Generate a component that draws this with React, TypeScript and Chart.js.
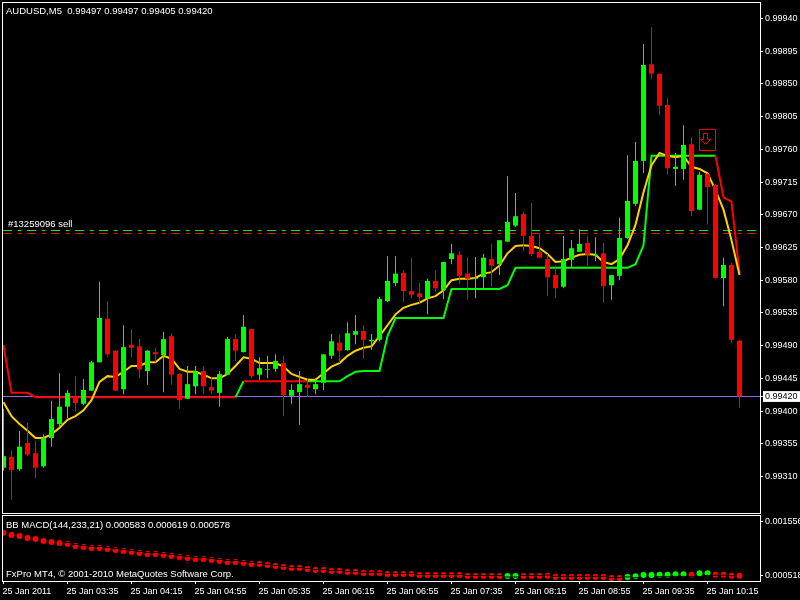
import React, { useEffect, useRef } from "react";
import { Chart, registerables } from "chart.js";

Chart.register(...registerables);

// Prices are quoted in 1/100000 (99420 = 0.99420)
const barOpen = [
  99322, 99337, 99320, 99356, 99342, 99324, 99363, 99382, 99406, 99418,
  99410, 99428, 99467, 99527, 99483, 99430, 99491, 99489, 99455, 99481,
  99477, 99503, 99451, 99417, 99434, 99455, 99433, 99425, 99450, 99499,
  99481, 99513, 99450, 99457, 99458, 99466, 99421, 99426, 99436, 99430,
  99439, 99476, 99494, 99484, 99505, 99510, 99496, 99498, 99551, 99576,
  99590, 99565, 99562, 99555, 99579, 99566, 99609, 99615, 99589, 99582,
  99584, 99609, 99602, 99633, 99655, 99671, 99641, 99619, 99609, 99587,
  99571, 99608, 99619, 99631, 99613, 99617, 99573, 99586, 99638, 99685,
  99744, 99877, 99864, 99821, 99733, 99733, 99767, 99677, 99726, 99711,
  99583, 99601, 99497,
];
const barClose = [
  99338, 99319, 99351, 99340, 99322, 99363, 99389, 99406, 99425, 99411,
  99429, 99467, 99528, 99478, 99428, 99488, 99487, 99457, 99483, 99478,
  99499, 99450, 99415, 99437, 99455, 99434, 99428, 99451, 99499, 99483,
  99516, 99448, 99459, 99458, 99469, 99422, 99429, 99437, 99432, 99437,
  99478, 99496, 99483, 99507, 99510, 99498, 99498, 99554, 99579, 99589,
  99565, 99560, 99557, 99579, 99569, 99605, 99617, 99586, 99582, 99583,
  99611, 99600, 99635, 99660, 99668, 99641, 99616, 99611, 99584, 99569,
  99609, 99624, 99630, 99615, 99615, 99572, 99587, 99638, 99689, 99744,
  99876, 99864, 99820, 99734, 99736, 99766, 99675, 99725, 99708, 99583,
  99601, 99498, 99420,
];
const barHigh = [
  99403, 99346, 99373, 99384, 99359, 99368, 99414, 99452, 99429, 99448,
  99444, 99469, 99578, 99551, 99484, 99518, 99513, 99499, 99484, 99487,
  99509, 99507, 99452, 99462, 99462, 99462, 99447, 99455, 99502, 99506,
  99532, 99513, 99474, 99476, 99478, 99476, 99437, 99455, 99445, 99445,
  99478, 99506, 99505, 99522, 99532, 99518, 99506, 99557, 99613, 99613,
  99594, 99611, 99576, 99582, 99594, 99605, 99630, 99620, 99612, 99612,
  99616, 99630, 99635, 99723, 99700, 99674, 99686, 99644, 99616, 99601,
  99641, 99635, 99650, 99641, 99639, 99631, 99587, 99666, 99752, 99770,
  99905, 99928, 99864, 99831, 99755, 99793, 99777, 99729, 99727, 99712,
  99611, 99604, 99497,
];
const barLow = [
  99318, 99278, 99318, 99338, 99308, 99322, 99351, 99379, 99390, 99399,
  99408, 99428, 99467, 99474, 99428, 99423, 99474, 99445, 99436, 99467,
  99426, 99436, 99403, 99417, 99423, 99423, 99423, 99406, 99450, 99469,
  99481, 99445, 99443, 99445, 99454, 99393, 99410, 99381, 99419, 99423,
  99429, 99472, 99466, 99483, 99492, 99472, 99484, 99496, 99550, 99572,
  99550, 99555, 99547, 99533, 99564, 99554, 99602, 99575, 99553, 99555,
  99568, 99571, 99587, 99633, 99653, 99620, 99613, 99611, 99558, 99555,
  99569, 99598, 99619, 99600, 99606, 99549, 99553, 99580, 99637, 99682,
  99727, 99857, 99807, 99725, 99710, 99718, 99668, 99677, 99657, 99582,
  99544, 99494, 99405,
];
const maLine = [
  99412, 99393, 99382, 99373, 99363, 99363, 99368, 99377, 99388, 99393,
  99401, 99415, 99440, 99448, 99447, 99454, 99462, 99462, 99467, 99467,
  99476, 99472, 99458, 99454, 99454, 99450, 99445, 99445, 99451, 99462,
  99474, 99472, 99466, 99466, 99466, 99461, 99451, 99447, 99443, 99443,
  99452, 99461, 99466, 99476, 99483, 99487, 99489, 99503, 99518, 99533,
  99542, 99546, 99549, 99555, 99558, 99566, 99580, 99582, 99582, 99583,
  99589, 99591, 99600, 99617, 99627, 99628, 99627, 99624, 99616, 99605,
  99606, 99611, 99615, 99616, 99615, 99605, 99602, 99609, 99628, 99656,
  99701, 99738, 99755, 99751, 99749, 99751, 99736, 99733, 99727, 99704,
  99677, 99635, 99587,
];
const trendLine = [
  99491, 99425, 99425, 99425, 99419, 99419, 99419, 99419, 99419, 99419,
  99419, 99419, 99419, 99419, 99419, 99419, 99419, 99419, 99419, 99419,
  99419, 99419, 99419, 99419, 99419, 99419, 99419, 99419, 99419, 99419,
  99441, 99441, 99441, 99441, 99441, 99441, 99441, 99441, 99441, 99441,
  99441, 99441, 99441, 99448, 99454, 99455, 99455, 99455, 99503, 99528,
  99528, 99528, 99528, 99528, 99528, 99528, 99568, 99568, 99568, 99568,
  99568, 99568, 99568, 99573, 99597, 99597, 99597, 99597, 99597, 99597,
  99597, 99597, 99597, 99597, 99597, 99597, 99597, 99597, 99597, 99602,
  99628, 99751, 99751, 99751, 99751, 99751, 99751, 99751, 99751, 99751,
  99694, 99688, 99590,
];
const trendUpBars = [
  29, 38, 39, 40, 41, 42, 43, 44, 45, 46, 47, 48, 49, 50, 51, 52, 53, 54, 55, 56, 57, 58,
  59, 60, 61, 62, 63, 64, 65, 66, 67, 68, 69, 70, 71, 72, 73, 74, 75, 76, 77, 78, 79, 80,
  81, 82, 83, 84, 85, 86, 87, 88,
];
const orderBuyLevel = 99648.3;
const orderSellLevel = 99644.2;
const bidLevel = 99420;
const signalBar = 88;
const signalPrice = 99773;
const priceTicks = [
  99940, 99895, 99850, 99805, 99760, 99715, 99670, 99625, 99580, 99535, 99490, 99445, 99420,
  99400, 99355, 99310,
];

// Sub-window, in millionths (583 = 0.000583)
const macdMain = [
  1349, 1304, 1285, 1246, 1227, 1188, 1169, 1150, 1130, 1092, 1072, 1053, 1053, 1034, 1014,
  995, 976, 956, 937, 937, 918, 898, 879, 860, 840, 840, 821, 802, 783, 783, 763, 744, 744,
  725, 705, 686, 667, 667, 647, 628, 628, 609, 609, 589, 589, 570, 570, 570, 551, 551, 551,
  551, 531, 531, 531, 531, 531, 531, 512, 512, 512, 512, 512, 512, 512, 512, 512, 512, 518,
  493, 493, 493, 493, 493, 493, 493, 473, 473, 493, 506, 531, 531, 537, 537, 545, 545, 537,
  564, 564, 537, 537, 518, 518,
];
const macdSignal = [
  1419, 1374, 1355, 1316, 1297, 1258, 1239, 1220, 1159, 1121, 1101, 1082, 1082, 1063, 1043,
  1024, 1005, 985, 966, 966, 947, 927, 908, 889, 869, 869, 850, 831, 812, 812, 792, 773, 754,
  735, 715, 696, 677, 677, 657, 638, 638, 619, 619, 599, 599, 580, 580, 580, 561, 561, 561,
  561, 541, 541, 541, 541, 541, 541, 522, 522, 522, 522, 522, 492, 492, 522, 522, 522, 528,
  503, 503, 503, 503, 503, 503, 503, 483, 483, 493, 477, 461, 461, 497, 497, 505, 505, 497,
  494, 524, 527, 527, 518, 588,
];
const macdUpBars = [63, 64, 78, 79, 80, 81, 82, 83, 84, 85, 87, 88];
const macdTicks = [1556, 518];

const timeLabels = [
  "25 Jan 2011", "25 Jan 03:35", "25 Jan 04:15", "25 Jan 04:55", "25 Jan 05:35", "25 Jan 06:15",
  "25 Jan 06:55", "25 Jan 07:35", "25 Jan 08:15", "25 Jan 08:55", "25 Jan 09:35", "25 Jan 10:15",
];
const headerText = "AUDUSD,M5  0.99497 0.99497 0.99405 0.99420";
const orderText = "#13259096 sell";
const macdText = "BB MACD(144,233,21) 0.000583 0.000619 0.000578";
const copyrightText = "FxPro MT4, \u00A9 2001-2010 MetaQuotes Software Corp.";

const GREEN = "#00ff00";
const RED = "#ff0000";
const FONT = "Liberation Sans";
const FONT_SIZE = 9.5;
const TICK_FONT_SIZE = 9;
const X_MIN = -0.0625;
const X_MAX = 94.5625;

function framePlugin(texts: { text: string; x: number; y: number }[]) {
  return {
    id: "frame",
    afterDraw(chart: any) {
      const { ctx, chartArea: a } = chart;
      ctx.save();
      ctx.strokeStyle = "#ffffff";
      ctx.lineWidth = 1;
      ctx.strokeRect(a.left - 0.5, a.top - 0.5, a.right - a.left + 1, a.bottom - a.top + 1);
      ctx.fillStyle = "#ffffff";
      ctx.font = `${FONT_SIZE}px "${FONT}"`;
      ctx.textBaseline = "middle";
      for (const t of texts) ctx.fillText(t.text, t.x, t.y);
      ctx.restore();
    },
  };
}

function makeArrowMarker() {
  const c = document.createElement("canvas");
  c.width = 17;
  c.height = 22;
  const g = c.getContext("2d")!;
  g.strokeStyle = RED;
  g.lineWidth = 1;
  g.strokeRect(0.5, 0.5, 16, 21);
  g.beginPath();
  g.moveTo(4.5, 4.5);
  g.lineTo(8.5, 4.5);
  g.lineTo(8.5, 10.5);
  g.lineTo(11.5, 10.5);
  g.lineTo(6.5, 15.5);
  g.lineTo(1.5, 10.5);
  g.lineTo(4.5, 10.5);
  g.closePath();
  g.stroke();
  return c;
}

const hidePadding = (s: any) => {
  s.paddingLeft = 0;
  s.paddingRight = 0;
  s.paddingTop = 0;
  s.paddingBottom = 0;
};

const tickFont = { family: FONT, size: TICK_FONT_SIZE };

export default function App() {
  const topRef = useRef<HTMLCanvasElement>(null);
  const subRef = useRef<HTMLCanvasElement>(null);

  useEffect(() => {
    const barColors = barOpen.map((o, i) => (barClose[i] >= o ? GREEN : RED));
    const idx = barOpen.map((_, i) => i);
    const levelLine = (y: number, color: string, dash: number[], order: number) => ({
      type: "line",
      data: [
        { x: X_MIN, y },
        { x: X_MAX, y },
      ],
      borderColor: color,
      borderWidth: 1,
      borderDash: dash,
      pointRadius: 0,
      order,
    });

    const top = new Chart(topRef.current!, {
      type: "bar",
      data: {
        datasets: [
          {
            data: idx.map((i) => ({ x: i, y: [barLow[i], barHigh[i]] })),
            backgroundColor: barColors,
            maxBarThickness: 1,
            barPercentage: 1,
            grouped: false,
            borderWidth: 0,
            inflateAmount: 0,
            order: 2,
          },
          {
            data: idx.map((i) => ({ x: i, y: [barOpen[i], barClose[i]] })),
            backgroundColor: barColors,
            maxBarThickness: 5,
            barPercentage: 1,
            grouped: false,
            borderWidth: 0,
            inflateAmount: 0,
            order: 1,
          },
          {
            type: "line",
            data: idx.map((i) => ({ x: i, y: maLine[i] })),
            borderColor: "#ffd000",
            borderWidth: 2,
            pointRadius: 0,
            tension: 0,
            order: 3,
          },
          {
            type: "line",
            data: idx.map((i) => ({ x: i, y: trendLine[i] })),
            borderColor: RED,
            borderWidth: 2,
            pointRadius: 0,
            tension: 0,
            segment: {
              borderColor: (ctx: any) => (trendUpBars.includes(ctx.p0DataIndex) ? GREEN : RED),
            },
            order: 4,
          },
          levelLine(bidLevel, "#8a6ae6", [], 7),
          levelLine(orderBuyLevel, GREEN, [9, 6, 3, 6], 6),
          levelLine(orderSellLevel, RED, [9, 6, 3, 6], 6),
          {
            type: "line",
            showLine: false,
            data: [{ x: signalBar, y: signalPrice }],
            pointStyle: makeArrowMarker(),
            pointRadius: 10,
            order: 0,
          },
        ] as any,
      },
      options: {
        animation: false,
        responsive: false,
        devicePixelRatio: 1,
        layout: { autoPadding: false, padding: { left: 3, top: 3, right: 0, bottom: 1 } },
        plugins: { legend: { display: false }, tooltip: { enabled: false } },
        scales: {
          x: {
            type: "linear",
            display: false,
            min: X_MIN,
            max: X_MAX,
            offset: false,
            grid: { offset: false },
          },
          y: {
            position: "right",
            min: 99259.76,
            max: 99961.26,
            afterBuildTicks: (s: any) => {
              s.ticks = priceTicks.map((value) => ({ value }));
            },
            afterFit: (s: any) => {
              s.width = 40;
              hidePadding(s);
            },
            border: { display: false },
            grid: { drawOnChartArea: false, drawTicks: true, tickLength: 3, color: "#ffffff" },
            ticks: {
              autoSkip: false,
              padding: 2,
              font: tickFont,
              callback: (v: any) => (Number(v) / 100000).toFixed(5),
              color: (ctx: any) => (ctx.tick?.value === bidLevel ? "#000000" : "#ffffff"),
              showLabelBackdrop: (ctx: any) => ctx.tick?.value === bidLevel,
              backdropColor: "#ffffff",
              backdropPadding: { top: 0, bottom: 0, left: 2, right: 3 },
            },
          },
        },
      } as any,
      plugins: [
        framePlugin([
          { text: headerText, x: 6, y: 11 },
          { text: orderText, x: 8, y: 224.5 },
        ]),
      ],
    });

    const sub = new Chart(subRef.current!, {
      type: "line",
      data: {
        datasets: [
          {
            data: idx.map((i) => ({ x: i, y: macdSignal[i] })),
            showLine: false,
            pointStyle: "line",
            pointRadius: 3.5,
            pointBorderWidth: 1,
            pointBorderColor: "#000000",
            pointBackgroundColor: "#000000",
            order: 1,
          },
          {
            data: idx.map((i) => ({ x: i, y: macdMain[i] })),
            showLine: false,
            pointStyle: "circle",
            pointRadius: 3,
            pointBorderWidth: 0,
            pointBackgroundColor: (ctx: any) =>
              macdUpBars.includes(ctx.dataIndex) ? GREEN : RED,
            order: 2,
          },
        ] as any,
      },
      options: {
        animation: false,
        responsive: false,
        devicePixelRatio: 1,
        layout: { autoPadding: false, padding: { left: 3, top: 2, right: 0, bottom: 0 } },
        plugins: { legend: { display: false }, tooltip: { enabled: false } },
        scales: {
          x: {
            type: "linear",
            min: X_MIN,
            max: X_MAX,
            afterBuildTicks: (s: any) => {
              s.ticks = timeLabels.map((_, k) => ({ value: k * 8 }));
            },
            afterFit: (s: any) => {
              s.height = 19;
              hidePadding(s);
            },
            border: { display: false },
            grid: { drawOnChartArea: false, drawTicks: true, tickLength: 3, color: "#ffffff" },
            ticks: {
              autoSkip: false,
              minRotation: 0,
              maxRotation: 0,
              align: "start",
              labelOffset: -1,
              padding: 2,
              font: tickFont,
              color: "#ffffff",
              callback: (_: any, k: number) => timeLabels[k],
            },
          },
          y: {
            position: "right",
            min: 415,
            max: 1672,
            afterBuildTicks: (s: any) => {
              s.ticks = macdTicks.map((value) => ({ value }));
            },
            afterFit: (s: any) => {
              s.width = 40;
              hidePadding(s);
            },
            border: { display: false },
            grid: { drawOnChartArea: false, drawTicks: true, tickLength: 3, color: "#ffffff" },
            ticks: {
              autoSkip: false,
              padding: 2,
              font: tickFont,
              color: "#ffffff",
              callback: (v: any) => (Number(v) / 1000000).toFixed(6),
            },
          },
        },
      } as any,
      plugins: [
        framePlugin([
          { text: macdText, x: 6, y: 11 },
          { text: copyrightText, x: 6, y: 60 },
        ]),
      ],
    });

    return () => {
      top.destroy();
      sub.destroy();
    };
  }, []);

  return (
    <div style={{ position: "fixed", left: 0, top: 0, width: 800, height: 600, background: "#000" }}>
      <canvas
        ref={topRef}
        width={800}
        height={514}
        style={{ position: "absolute", left: 0, top: 0, width: 800, height: 514, display: "block" }}
      />
      <canvas
        ref={subRef}
        width={800}
        height={86}
        style={{ position: "absolute", left: 0, top: 514, width: 800, height: 86, display: "block" }}
      />
    </div>
  );
}
